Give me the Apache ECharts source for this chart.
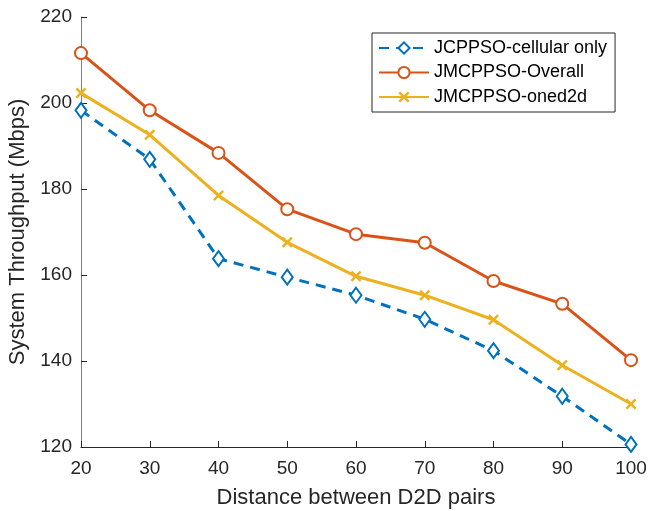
<!DOCTYPE html>
<html>
<head>
<meta charset="utf-8">
<script src="https://cdn.jsdelivr.net/npm/echarts@6/dist/echarts.min.js"></script>
<style>
  html, body { margin: 0; padding: 0; background: #fff; }
  #chart { width: 650px; height: 511px; }
</style>
</head>
<body>
<div id="chart"></div>
<script>
// data
const distances = [20, 30, 40, 50, 60, 70, 80, 90, 100];
const cellularOnly = [198.3, 186.9, 163.8, 159.5, 155.3, 149.7, 142.4, 131.8, 120.6];
const overall = [211.6, 198.3, 188.4, 175.3, 169.5, 167.5, 158.6, 153.3, 140.2];
const oned2d = [202.3, 192.6, 178.5, 167.6, 159.7, 155.3, 149.6, 139.0, 130.0];
const seriesNames = ['JCPPSO-cellular only', 'JMCPPSO-Overall', 'JMCPPSO-oned2d'];
const colors = ['#0072BD', '#D95319', '#EDB120'];

const toPairs = arr => arr.map((v, i) => [distances[i], v]);
const xMark = 'path://M0,1.6L1.6,0L5,3.4L8.4,0L10,1.6L6.6,5L10,8.4L8.4,10L5,6.6L1.6,10L0,8.4L3.4,5Z';

var myChart = echarts.init(document.getElementById('chart'));
myChart.setOption({
  animation: false,
  textStyle: { fontFamily: 'Liberation Sans, Arial, sans-serif' },
  grid: { left: 81, right: 19, top: 17, bottom: 64, containLabel: false, outerBoundsMode: 'none' },
  legend: {
    orient: 'vertical',
    left: 372, top: 33,
    padding: [6, 8, 6, 6],
    itemGap: 6.5,
    itemWidth: 50, itemHeight: 14,
    borderColor: '#262626', borderWidth: 1,
    backgroundColor: '#fff',
    textStyle: { fontSize: 18, lineHeight: 18, color: '#000' },
    data: seriesNames
  },
  xAxis: {
    type: 'value',
    min: 20, max: 100, interval: 10,
    name: 'Distance between D2D pairs',
    nameLocation: 'middle', nameGap: 40,
    nameTextStyle: { fontSize: 22, color: '#262626' },
    axisLine: { onZero: false, lineStyle: { color: '#262626', width: 1 } },
    axisTick: { inside: true, length: 6, lineStyle: { color: '#262626' } },
    axisLabel: { fontSize: 19, color: '#262626', margin: 12 },
    splitLine: { show: false }
  },
  yAxis: {
    type: 'value',
    min: 120, max: 220, interval: 20,
    name: 'System Throughput (Mbps)',
    nameLocation: 'middle', nameGap: 50,
    nameTextStyle: { fontSize: 22, color: '#262626' },
    axisLine: { show: true, lineStyle: { color: '#7f7f7f', width: 1 } },
    axisTick: { show: true, inside: true, length: 6, lineStyle: { color: '#262626' } },
    axisLabel: { fontSize: 19, color: '#262626', margin: 9 },
    splitLine: { show: false }
  },
  series: [
    {
      name: seriesNames[0],
      type: 'line',
      data: toPairs(cellularOnly),
      symbol: 'emptyDiamond',
      symbolSize: [11, 15],
      z: 4,
      lineStyle: { color: colors[0], width: 3, type: [10, 7] },
      itemStyle: { color: colors[0], borderColor: colors[0], borderWidth: 2.5 }
    },
    {
      name: seriesNames[1],
      type: 'line',
      data: toPairs(overall),
      symbol: 'emptyCircle',
      symbolSize: 12,
      z: 3,
      lineStyle: { color: colors[1], width: 3 },
      itemStyle: { color: colors[1], borderColor: colors[1], borderWidth: 2.5 }
    },
    {
      name: seriesNames[2],
      type: 'line',
      data: toPairs(oned2d),
      symbol: xMark,
      symbolSize: 11,
      z: 2,
      lineStyle: { color: colors[2], width: 3 },
      itemStyle: { color: colors[2], borderWidth: 0 }
    }
  ]
});
</script>
</body>
</html>
